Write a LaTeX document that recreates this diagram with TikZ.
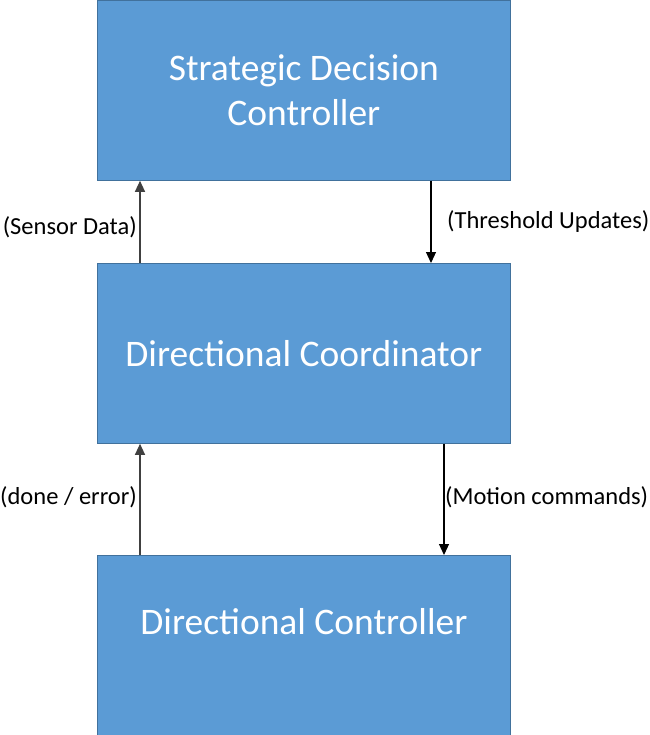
\documentclass[tikz,border=0pt]{standalone}
\usepackage{fontspec}
\setmainfont{Carlito}
\usetikzlibrary{arrows.meta}
\definecolor{boxfill}{HTML}{5B9BD5}
\definecolor{boxline}{HTML}{41719C}
\begin{document}
\begin{tikzpicture}[x=1pt,y=-1pt,
  blockbox/.style={draw=boxline,line width=0.8pt,fill=boxfill,minimum width=413pt,minimum height=180pt,inner sep=0pt,anchor=north west,text=white,font=\fontsize{37.5}{45}\selectfont,align=center},
  conn/.style={line width=1.2pt,-{Triangle[length=11pt,width=10pt]}},
  lab/.style={font=\fontsize{24.5}{26}\selectfont,text=black,inner sep=0pt}]
\useasboundingbox (0,0) rectangle (649,735);
\node[blockbox] (top) at (97,0) {Strategic Decision\\Controller};
\node[blockbox] (mid) at (97,263) {Directional Coordinator};
\node[blockbox] (bot) at (97,555) {\raisebox{47pt}{Directional Controller}};
\coordinate (a1) at (140,0);
\coordinate (a2) at (431,0);
\coordinate (a3) at (444,0);
\draw[conn,draw=black!75,fill=black!75] (a1 |- mid.north) -- (a1 |- top.south);
\draw[conn] (a2 |- top.south) -- (a2 |- mid.north);
\draw[conn,draw=black!75] (a1 |- bot.north) -- (a1 |- mid.south);
\draw[conn] (a3 |- mid.south) -- (a3 |- bot.north);
\node[lab,anchor=east] (l1) at (137,227) {(Sensor Data)};
\node[lab,anchor=west] (l2) at (447,222) {(Threshold Updates)};
\node[lab,anchor=east] (l3) at (137,497) {(done / error)};
\node[lab,anchor=west] (l4) at (445,497) {(Motion commands)};
\end{tikzpicture}
\end{document}
